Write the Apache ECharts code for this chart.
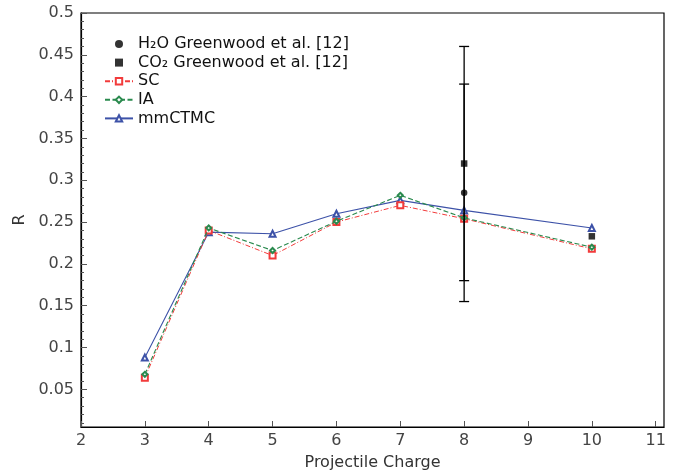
<!DOCTYPE html>
<html>
<head>
<meta charset="utf-8">
<script src="https://cdn.jsdelivr.net/npm/echarts@6/dist/echarts.min.js"></script>
<style>
  html, body { margin: 0; padding: 0; background: #fff; }
  #chart { width: 679px; height: 476px; }
</style>
</head>
<body>
<div id="chart"></div>
<script>
// projectile charges
var charges = [3, 4, 5, 6, 7, 8, 10]
// theory curves
var scValues = [0.064, 0.240, 0.210, 0.250, 0.270, 0.254, 0.218]
var iaValues = [0.068, 0.243, 0.216, 0.251, 0.282, 0.255, 0.220]
var mmctmcValues = [0.088, 0.238, 0.236, 0.260, 0.276, 0.264, 0.243]
// experiment (Greenwood et al.)
var h2oX = [8]
var h2oY = [0.285]
var h2oLow = [0.155]
var h2oHigh = [0.415]
var co2X = [8, 10]
var co2Y = [0.320, 0.233]
var co2Low = [0.18, null]
var co2High = [0.46, null]
// ticks
var xTicks = [2, 3, 4, 5, 6, 7, 8, 9, 10, 11]
var yTicks = [0.05, 0.1, 0.15, 0.2, 0.25, 0.3, 0.35, 0.4, 0.45, 0.5]

var yMinor = []
for (var i = 1; i < 50; i++) {
  if (i % 5 !== 0) yMinor.push(i / 100)
}

function pairs (xs, ys) {
  return xs.map(function (x, k) { return [x, ys[k]] })
}

function errData (xs, lo, hi) {
  var out = []
  xs.forEach(function (x, k) {
    if (lo[k] != null) out.push([x, lo[k], hi[k]])
  })
  return out
}

function renderErr (params, api) {
  var top = api.coord([api.value(0), api.value(2)])
  var bot = api.coord([api.value(0), api.value(1)])
  var w = 5
  var st = { stroke: '#000', lineWidth: 1.3 }
  return {
    type: 'group',
    children: [
      { type: 'line', shape: { x1: top[0], y1: top[1], x2: bot[0], y2: bot[1] }, style: st },
      { type: 'line', shape: { x1: top[0] - w, y1: top[1], x2: top[0] + w, y2: top[1] }, style: st },
      { type: 'line', shape: { x1: bot[0] - w, y1: bot[1], x2: bot[0] + w, y2: bot[1] }, style: st }
    ]
  }
}

var squareIcon = 'path://M0,0L10,0L10,10L0,10Z'
var font = 'DejaVu Sans'
var chart = echarts.init(document.getElementById('chart'))
chart.setOption({
  animation: false,
  textStyle: { fontFamily: font },
  grid: {
    left: 81, right: 15, top: 13, bottom: 47,
    show: true, borderColor: '#000', borderWidth: 1.2
  },
  legend: {
    orient: 'vertical',
    left: 99,
    top: 31,
    itemWidth: 28,
    itemHeight: 8,
    itemGap: 2.6,
    symbolKeepAspect: true,
    textStyle: { fontFamily: font, fontSize: 16, color: '#111' },
    data: [
      { name: 'H₂O Greenwood et al. [12]', icon: 'circle' },
      { name: 'CO₂ Greenwood et al. [12]', icon: squareIcon },
      { name: 'SC' },
      { name: 'IA' },
      { name: 'mmCTMC' }
    ]
  },
  xAxis: {
    type: 'value',
    min: 2,
    max: 11.13,
    interval: 1,
    name: 'Projectile Charge',
    nameLocation: 'middle',
    nameGap: 28,
    nameTextStyle: { fontFamily: font, fontSize: 16, color: '#333' },
    splitLine: { show: false },
    axisLine: { lineStyle: { color: '#000', width: 1.2 } },
    axisTick: { inside: true, length: 6, lineStyle: { color: '#555' } },
    axisLabel: { fontFamily: font, fontSize: 16, color: '#444', margin: 6 }
  },
  yAxis: [{
    type: 'value',
    min: 0.005,
    max: 0.5,
    name: 'R',
    nameLocation: 'middle',
    nameGap: 52,
    nameTextStyle: { fontFamily: font, fontSize: 16, color: '#333' },
    splitLine: { show: false },
    axisLine: { show: true, lineStyle: { color: '#000', width: 1.2 } },
    axisTick: { inside: true, length: 6, customValues: yTicks, lineStyle: { color: '#555' } },
    axisLabel: { fontFamily: font, fontSize: 16, color: '#444', margin: 7, customValues: yTicks }
  }, {
    type: 'value',
    min: 0.005,
    max: 0.5,
    position: 'left',
    splitLine: { show: false },
    axisLine: { show: false },
    axisTick: { inside: true, length: 3, customValues: yMinor, lineStyle: { color: '#555' } },
    axisLabel: { show: false }
  }],
  series: [
    {
      name: 'SC',
      type: 'line',
      data: pairs(charges, scValues),
      symbol: 'emptyRect',
      symbolSize: 6,
      color: '#f23b3b',
      itemStyle: { borderWidth: 1.1 },
      lineStyle: { width: 1, type: [5, 2, 1, 2] },
      z: 3
    },
    {
      name: 'IA',
      type: 'line',
      data: pairs(charges, iaValues),
      symbol: 'emptyDiamond',
      symbolSize: 5,
      color: '#2a8a4e',
      itemStyle: { borderWidth: 1.1 },
      lineStyle: { width: 1.1, type: [5, 2.5] },
      z: 4
    },
    {
      name: 'mmCTMC',
      type: 'line',
      data: pairs(charges, mmctmcValues),
      symbol: 'emptyTriangle',
      symbolSize: 6,
      color: '#3d52a8',
      itemStyle: { borderWidth: 1.1 },
      lineStyle: { width: 1.1 },
      z: 2
    },
    {
      name: 'H₂O Greenwood et al. [12]',
      type: 'scatter',
      data: pairs(h2oX, h2oY),
      symbol: 'circle',
      symbolSize: 6.5,
      color: '#000',
      z: 6
    },
    {
      name: 'CO₂ Greenwood et al. [12]',
      type: 'scatter',
      data: pairs(co2X, co2Y),
      symbol: 'rect',
      symbolSize: 6.5,
      color: '#000',
      z: 6
    },
    {
      type: 'custom',
      renderItem: renderErr,
      data: errData(h2oX, h2oLow, h2oHigh).concat(errData(co2X, co2Low, co2High)),
      encode: { x: 0, y: [1, 2] },
      z: 5
    }
  ]
})
</script>
</body>
</html>
